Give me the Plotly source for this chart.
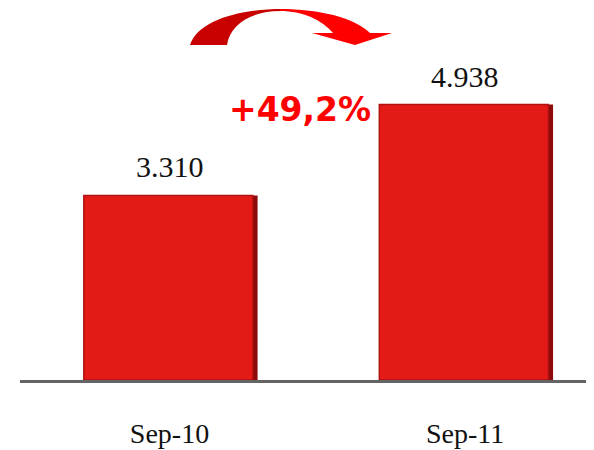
import plotly.graph_objects as go

categories = ["Sep-10", "Sep-11"]
values = [3310, 4938]
value_labels = ["3.310", "4.938"]

growth = (values[1] / values[0] - 1) * 100
growth_label = "+" + f"{growth:.1f}".replace(".", ",") + "%"

# the page body has an 8px margin; the figure is sized to end at the window edge
OFF = 8
W, H = 594 - OFF, 450 - OFF
L, R, T, B = 20 - OFF, 0, 0, 70
pw, ph = W - L - R, H - T - B


def px(x, y):
    # x, y are window pixels
    x -= OFF
    y -= OFF
    return f"{(x - L) / pw:.4f},{(H - B - y) / ph:.4f}"


BW = 0.58
fig = go.Figure()
# dark shadow edge on the right side of each bar
fig.add_trace(go.Bar(
    x=categories, y=values, width=BW, offset=-BW / 2 + 0.008,
    marker=dict(color="#8E0A0A", line=dict(width=0)), hoverinfo="skip",
))
fig.add_trace(go.Bar(
    x=categories, y=values, width=BW - 0.008, offset=-BW / 2,
    marker=dict(color="#E41A17", line=dict(color="#B01212", width=1.5)),
    hoverinfo="skip",
))

for c, v, t in zip(categories, values, value_labels):
    fig.add_annotation(x=c, y=v, text=t, showarrow=False, yanchor="bottom",
                       yshift=10, font=dict(family="Liberation Serif", size=30, color="#111111"))

fig.add_annotation(xref="paper", yref="paper", x=(300 - OFF - L) / pw, y=(H - B - (88 - OFF)) / ph,
                   text="<b>" + growth_label + "</b>", showarrow=False,
                   font=dict(family="DejaVu Sans", size=33, color="#FF0000"))

# curved arrow (decoration), left dark part and right bright part
left_path = ("M" + px(190, 45) + " C" + px(198, 20) + " " + px(240, 9) + " " + px(281, 9)
             + " L" + px(281, 11) + " C" + px(250, 11) + " " + px(230, 25) + " " + px(227, 45) + " Z")
right_path = ("M" + px(280, 9) + " C" + px(320, 9) + " " + px(355, 18) + " " + px(370, 33)
              + " L" + px(392, 33) + " L" + px(355, 45) + " L" + px(312, 33) + " L" + px(333, 33)
              + " C" + px(322, 20) + " " + px(303, 11) + " " + px(280, 11) + " Z")
fig.add_shape(type="path", xref="paper", yref="paper", path=left_path,
              fillcolor="#C80000", line=dict(width=0))
fig.add_shape(type="path", xref="paper", yref="paper", path=right_path,
              fillcolor="#FF0000", line=dict(width=0))

fig.update_layout(
    width=W, height=H, margin=dict(l=L, r=R, t=T, b=B),
    paper_bgcolor="white", plot_bgcolor="white", showlegend=False, barmode="overlay",
    xaxis=dict(range=[-0.506, 1.4365], showline=True, linecolor="#646464", linewidth=2.5,
               ticks="", showgrid=False, zeroline=False, ticklabelstandoff=27,
               tickfont=dict(family="Liberation Serif", size=28, color="#111111")),
    yaxis=dict(range=[0, 6813 * (ph / 380.0)], visible=False, showgrid=False, zeroline=False),
)

fig.write_html("out.html")
